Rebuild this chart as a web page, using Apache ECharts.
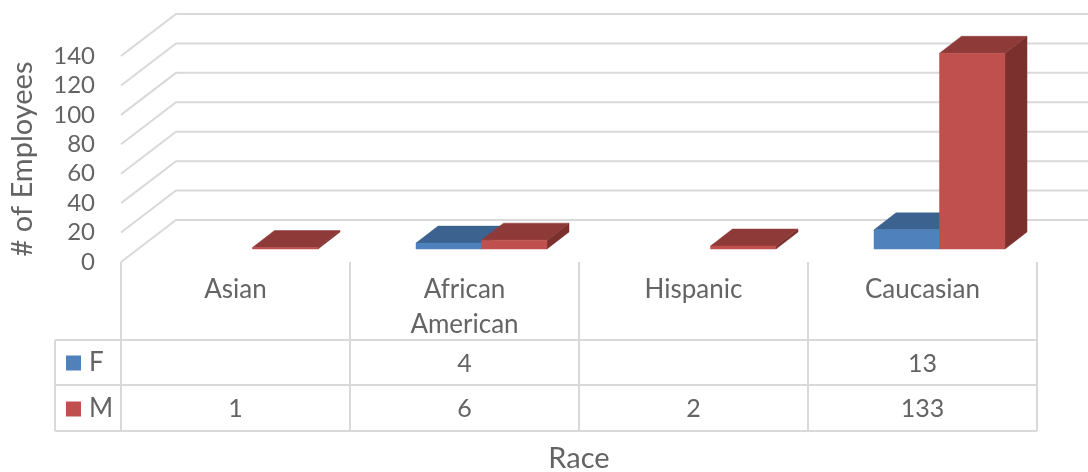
<!DOCTYPE html>
<html>
<head>
<meta charset="utf-8">
<style>html,body{margin:0;padding:0;background:#fff}#c{width:1088px;height:472px}</style>
<script src="https://cdn.jsdelivr.net/npm/echarts@6/dist/echarts.min.js"></script>
</head>
<body>
<div id="c"></div>
<script>
const categories = ['Asian', 'African American', 'Hispanic', 'Caucasian'];
const valuesF = [null, 4, null, 13];
const valuesM = [1, 6, 2, 133];
const yTicks = [0, 20, 40, 60, 80, 100, 120, 140];

const FONT = 'Lato';
const TEXT = '#646464';
const GRID = '#d9d9d9';
const fontSize = 24;
const catFontSize = 26;
const titleFontSize = 29;
const wall = { dx: 55, dy: -42 };
const barFront = { dx: 17, dy: -13 };
const barDepth = { dx: 22, dy: -17 };
const barFrac = 0.286;
const rowLines = [340, 385, 431];
const rowCentres = [363, 408];
const tableLeft = 55;
const colors = {
  F: { front: '#4f81bd', top: '#3c628f', side: '#345578' },
  M: { front: '#c0504d', top: '#8e3a38', side: '#7b302e' }
};

function bar3d(series, order) {
  const c = colors[series];
  return function (params, api) {
    const idx = api.value(0), val = api.value(1);
    const base = api.coord([idx, 0]), top = api.coord([idx, val]);
    const w = api.size([1, 0])[0] * barFrac;
    const x0 = base[0] + barFront.dx + (order === 0 ? -w : 0);
    const x1 = x0 + w;
    const yb = base[1] + barFront.dy, yt = top[1] + barFront.dy;
    const dx = barDepth.dx, dy = barDepth.dy;
    const poly = (pts, fill) => ({ type: 'polygon', shape: { points: pts }, style: { fill: fill, stroke: fill, lineWidth: 0.5 } });
    return {
      type: 'group',
      children: [
        poly([[x1, yb], [x1 + dx, yb + dy], [x1 + dx, yt + dy], [x1, yt]], c.side),
        poly([[x0, yt], [x0 + dx, yt + dy], [x1 + dx, yt + dy], [x1, yt]], c.top),
        poly([[x0, yb], [x1, yb], [x1, yt], [x0, yt]], c.front)
      ]
    };
  };
}

const barData = arr => arr.map((v, i) => [i, v]).filter(d => d[1] !== null);
const tableText = (arr, row) => arr.map((v, i) => [i, row, v]).filter(d => d[2] !== null);

const option = {
  animation: false,
  backgroundColor: '#fff',
  textStyle: { fontFamily: FONT },
  grid: { left: 121, right: 51, top: 56, bottom: 210, containLabel: false, outerBoundsMode: 'none' },
  legend: {
    data: ['F', 'M'], orient: 'vertical', left: 66, top: 350,
    itemWidth: 15, itemHeight: 15, itemGap: 20, selectedMode: false, icon: 'rect',
    padding: 0,
    textStyle: { fontFamily: FONT, fontSize: catFontSize, color: TEXT, lineHeight: 15, height: 15, padding: [0, 0, 0, 3] }
  },
  xAxis: {
    type: 'category', data: categories,
    axisLine: { show: false },
    axisTick: { show: true, length: 169, lineStyle: { color: GRID, width: 2 } },
    axisLabel: {
      margin: 10, fontFamily: FONT, fontSize: catFontSize, color: TEXT, lineHeight: 35,
      verticalAlign: 'top', interval: 0, formatter: v => v.replace(' ', '\n')
    },
    name: 'Race', nameLocation: 'middle', nameGap: 182,
    nameTextStyle: { fontFamily: FONT, fontSize: titleFontSize, color: TEXT }
  },
  yAxis: {
    type: 'value', min: 0, max: 140, interval: 20,
    axisLine: { show: false }, axisTick: { show: false }, splitLine: { show: false },
    axisLabel: { margin: 26, fontFamily: FONT, fontSize: fontSize, color: TEXT, padding: [4, 0, 0, 0] },
    name: '# of Employees', nameLocation: 'middle', nameGap: 84,
    nameTextStyle: { fontFamily: FONT, fontSize: titleFontSize, color: TEXT }
  },
  series: [
    {
      type: 'custom', name: 'walls', silent: true, z: 1, clip: false,
      data: yTicks.map(v => [v]),
      encode: { y: 0 },
      renderItem: function (params, api) {
        const p = api.coord([0, api.value(0)]);
        const x = p[0] - api.size([1, 0])[0] / 2;
        return {
          type: 'polyline',
          shape: { points: [[x, p[1]], [x + wall.dx, p[1] + wall.dy], [1100, p[1] + wall.dy]] },
          style: { stroke: GRID, lineWidth: 2, fill: 'none' }
        };
      }
    },
    {
      type: 'custom', name: 'tableFrame', silent: true, z: 1, clip: false,
      data: [[0]],
      renderItem: function (params, api) {
        const bw = api.size([1, 0])[0];
        const left = api.coord([0, 0])[0] - bw / 2;
        const right = left + bw * categories.length;
        const kids = rowLines.map(y => ({
          type: 'line', shape: { x1: tableLeft, y1: y, x2: right, y2: y },
          style: { stroke: GRID, lineWidth: 2 }
        }));
        kids.push({ type: 'line', shape: { x1: tableLeft, y1: rowLines[0], x2: tableLeft, y2: rowLines[2] }, style: { stroke: GRID, lineWidth: 2 } });
        return { type: 'group', children: kids };
      }
    },
    {
      type: 'custom', name: 'tableValues', silent: true, z: 3, clip: false,
      data: tableText(valuesF, 0).concat(tableText(valuesM, 1)),
      renderItem: function (params, api) {
        const p = api.coord([api.value(0), 0]);
        return {
          type: 'text',
          style: {
            x: p[0], y: rowCentres[api.value(1)] + 1, text: String(api.value(2)),
            fill: TEXT, font: '25px ' + FONT, align: 'center', verticalAlign: 'middle'
          }
        };
      }
    },
    { type: 'custom', name: 'F', z: 4, clip: false, itemStyle: { color: colors.F.front }, data: barData(valuesF), renderItem: bar3d('F', 0) },
    { type: 'custom', name: 'M', z: 5, clip: false, itemStyle: { color: colors.M.front }, data: barData(valuesM), renderItem: bar3d('M', 1) }
  ]
};
echarts.init(document.getElementById('c'), null, { renderer: 'canvas' }).setOption(option);
</script>
</body>
</html>
